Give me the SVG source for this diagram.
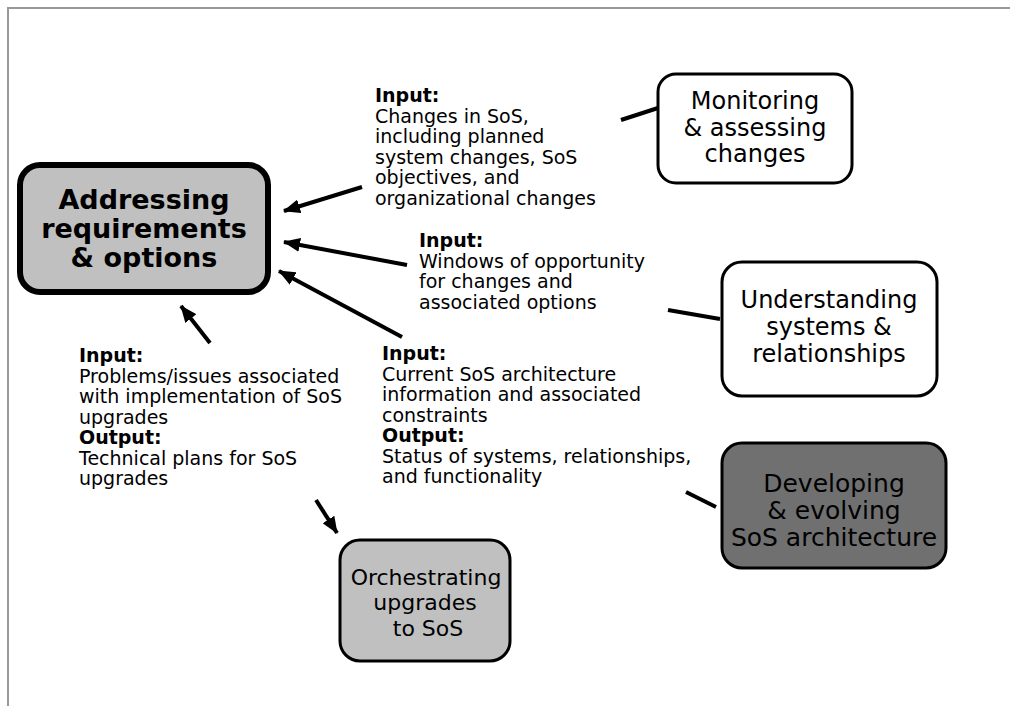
<svg xmlns="http://www.w3.org/2000/svg" width="1010" height="706" viewBox="0 0 1010 706">
<style>
.frame{stroke:#999;stroke-width:2;fill:none}
.node{stroke:#000;stroke-width:3}
.main{stroke:#000;stroke-width:6;fill:#c0c0c0}
.lt{fill:#fff}
.gr{fill:#c0c0c0}
.dk{fill:#707070}
.nt{font-family:"DejaVu Sans",Verdana,sans-serif;font-size:24px;fill:#000;text-anchor:middle}
.mt{font-family:"DejaVu Sans",Verdana,sans-serif;font-size:27px;font-weight:bold;fill:#000;text-anchor:middle}
.lb{font-family:"DejaVu Sans",Verdana,sans-serif;font-size:19px;fill:#000}
.b{font-weight:bold}
.ar{stroke:#000;stroke-width:4;fill:none}
</style>
<defs>
<marker id="ah" markerUnits="userSpaceOnUse" markerWidth="18" markerHeight="14" refX="16" refY="7" orient="auto">
<path d="M0,0 L17,7 L0,14 z" fill="#000"/>
</marker>
</defs>
<path class="frame" d="M8,706 L8,8 L1010,8"/>
<g id="connectors">
<line class="ar" x1="362" y1="187" x2="284" y2="211" marker-end="url(#ah)"/>
<line class="ar" x1="407" y1="265" x2="284" y2="242" marker-end="url(#ah)"/>
<line class="ar" x1="402" y1="337" x2="279" y2="271" marker-end="url(#ah)"/>
<line class="ar" x1="210" y1="343" x2="181" y2="306" marker-end="url(#ah)"/>
<line class="ar" x1="316" y1="500" x2="337" y2="533" marker-end="url(#ah)"/>
<line class="ar" x1="621" y1="120" x2="658" y2="108"/>
<line class="ar" x1="668" y1="310" x2="720" y2="319"/>
<line class="ar" x1="686" y1="492" x2="716" y2="507"/>
</g>
<g id="addressing">
<rect class="main" x="20" y="165" width="248" height="127" rx="20"/>
<text class="mt" x="144" y="209">Addressing</text>
<text class="mt" x="144" y="238">requirements</text>
<text class="mt" x="144" y="267">&amp; options</text>
</g>
<g id="monitoring">
<rect class="node lt" x="658" y="74" width="194" height="109" rx="18"/>
<text class="nt" x="755" y="109">Monitoring</text>
<text class="nt" x="755" y="136">&amp; assessing</text>
<text class="nt" x="755" y="162">changes</text>
</g>
<g id="understanding">
<rect class="node lt" x="722" y="262" width="215" height="134" rx="20"/>
<text class="nt" x="829" y="308">Understanding</text>
<text class="nt" x="829" y="335">systems &amp;</text>
<text class="nt" x="829" y="362">relationships</text>
</g>
<g id="developing">
<rect class="node dk" x="722" y="443" width="224" height="125" rx="20"/>
<text class="nt" x="834" y="492" style="font-size:25px">Developing</text>
<text class="nt" x="834" y="519" style="font-size:25px">&amp; evolving</text>
<text class="nt" x="834" y="546" style="font-size:25px">SoS architecture</text>
</g>
<g id="orchestrating">
<rect class="node gr" x="340" y="540" width="170" height="121" rx="20"/>
<text class="nt" x="426" y="585" style="font-size:22px">Orchestrating</text>
<text class="nt" x="425" y="610" style="font-size:22px">upgrades</text>
<text class="nt" x="428" y="636" style="font-size:22px">to SoS</text>
</g>
<g id="label-monitoring">
<text class="lb" x="375" y="102"><tspan class="b">Input:</tspan><tspan x="375" dy="20.6">Changes in SoS,</tspan><tspan x="375" dy="20.6">including planned</tspan><tspan x="375" dy="20.6">system changes, SoS</tspan><tspan x="375" dy="20.6">objectives, and</tspan><tspan x="375" dy="20.6">organizational changes</tspan></text>
</g>
<g id="label-understanding">
<text class="lb" x="419" y="247"><tspan class="b">Input:</tspan><tspan x="419" dy="20.6">Windows of opportunity</tspan><tspan x="419" dy="20.6">for changes and</tspan><tspan x="419" dy="20.6">associated options</tspan></text>
</g>
<g id="label-orchestrating">
<text class="lb" x="79" y="362"><tspan class="b">Input:</tspan><tspan x="79" dy="20.5">Problems/issues associated</tspan><tspan x="79" dy="20.5">with implementation of SoS</tspan><tspan x="79" dy="20.5">upgrades</tspan><tspan x="79" dy="20.5" class="b">Output:</tspan><tspan x="79" dy="20.5">Technical plans for SoS</tspan><tspan x="79" dy="20.5">upgrades</tspan></text>
</g>
<g id="label-developing">
<text class="lb" x="382" y="360"><tspan class="b">Input:</tspan><tspan x="382" dy="20.5">Current SoS architecture</tspan><tspan x="382" dy="20.5">information and associated</tspan><tspan x="382" dy="20.5">constraints</tspan><tspan x="382" dy="20.5" class="b">Output:</tspan><tspan x="382" dy="20.5">Status of systems, relationships,</tspan><tspan x="382" dy="20.5">and functionality</tspan></text>
</g>
</svg>
